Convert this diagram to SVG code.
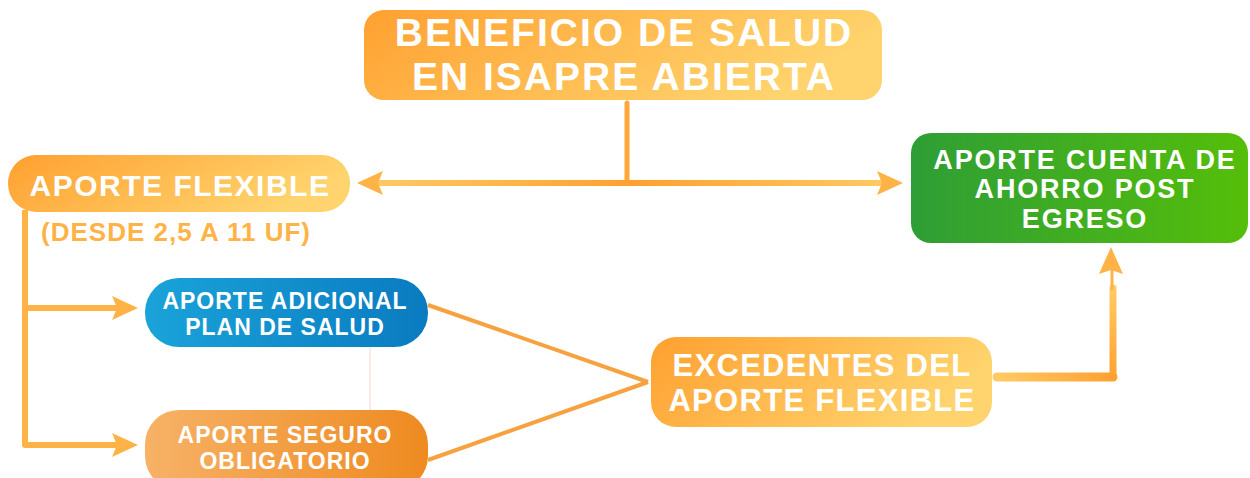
<svg xmlns="http://www.w3.org/2000/svg" width="1250" height="478" viewBox="0 0 1250 478">
<style>
.t{font-family:"Liberation Sans",Arial,sans-serif;font-weight:bold;fill:#fff;text-anchor:middle}
.c{fill:none;stroke-linecap:round}
.ah{fill:#FFB347}
</style>
<defs>
<linearGradient id="gOr" x1="0" y1="0" x2="1" y2="0.3">
<stop offset="0" stop-color="#FFA030"/><stop offset="1" stop-color="#FFD46E"/>
</linearGradient>
<linearGradient id="gGr" x1="0" y1="0" x2="1" y2="0">
<stop offset="0" stop-color="#2E9E36"/><stop offset="1" stop-color="#55BE0A"/>
</linearGradient>
<linearGradient id="gBl" x1="0" y1="0" x2="1" y2="0">
<stop offset="0" stop-color="#1AA3D9"/><stop offset="1" stop-color="#0A7BC0"/>
</linearGradient>
<linearGradient id="gOr2" x1="0" y1="0" x2="1" y2="0">
<stop offset="0" stop-color="#F7B266"/><stop offset="1" stop-color="#EE8A20"/>
</linearGradient>
<linearGradient id="gH" gradientUnits="userSpaceOnUse" x1="360" y1="0" x2="903" y2="0">
<stop offset="0" stop-color="#FFCC66"/><stop offset="0.5" stop-color="#FFA030"/><stop offset="1" stop-color="#FFCC66"/>
</linearGradient>
<linearGradient id="gE" gradientUnits="userSpaceOnUse" x1="993" y1="0" x2="1115" y2="0">
<stop offset="0" stop-color="#FFCC66"/><stop offset="1" stop-color="#FFA030"/>
</linearGradient>
<linearGradient id="gV" gradientUnits="userSpaceOnUse" x1="0" y1="285" x2="0" y2="380">
<stop offset="0" stop-color="#FFCC66"/><stop offset="1" stop-color="#FFA030"/>
</linearGradient>
<marker id="ahb" viewBox="0 0 26 24" refX="5" refY="12" markerWidth="26" markerHeight="24" markerUnits="userSpaceOnUse" orient="auto-start-reverse">
<path class="ah" d="M0,0 L26,12 L0,24 L5,12 z"/>
</marker>
</defs>

<g id="connectors">
<line class="c" x1="627" y1="103" x2="627" y2="181" stroke="#FFA838" stroke-width="5"/>
<line x1="378" y1="183" x2="882" y2="183" stroke="url(#gH)" stroke-width="6" marker-start="url(#ahb)" marker-end="url(#ahb)"/>
<polyline points="25,210 25,445 117,445" fill="none" stroke="#FFB347" stroke-width="6" stroke-linejoin="round" marker-end="url(#ahb)"/>
<line x1="25" y1="308" x2="117" y2="308" stroke="#FFB347" stroke-width="6" marker-end="url(#ahb)"/>
<line x1="370" y1="347" x2="370" y2="410" stroke="#F6D9C9" stroke-width="1"/>
<line x1="428" y1="305" x2="648" y2="382" stroke="#F7A240" stroke-width="4"/>
<line x1="428" y1="460" x2="648" y2="382" stroke="#F7A240" stroke-width="4"/>
<line class="c" x1="997" y1="377" x2="1113" y2="377" stroke="url(#gE)" stroke-width="9"/>
<line class="c" x1="1113" y1="377" x2="1113" y2="288" stroke="url(#gV)" stroke-width="7"/>
<line x1="1112" y1="290" x2="1112" y2="268" stroke="#FFB347" stroke-width="3"/>
<path class="ah" d="M1111,247 L1123,274 L1111,270 L1099,274 z"/>
</g>

<g id="beneficio">
<rect x="364" y="10" width="518" height="90" rx="20" fill="url(#gOr)"/>
<text class="t" x="624" y="46" font-size="39" letter-spacing="2">BENEFICIO DE SALUD</text>
<text class="t" x="624" y="90" font-size="39" letter-spacing="2">EN ISAPRE ABIERTA</text>
</g>

<g id="aporte-flexible">
<rect x="8" y="155" width="342" height="57" rx="28" fill="url(#gOr)"/>
<text class="t" x="180" y="196" font-size="30" letter-spacing="1.5">APORTE FLEXIBLE</text>
<text x="176" y="241" font-size="26" letter-spacing="1" font-family="Liberation Sans,Arial,sans-serif" font-weight="bold" fill="#FFB347" text-anchor="middle">(DESDE 2,5 A 11 UF)</text>
</g>

<g id="cuenta-ahorro">
<rect x="911" y="133" width="337" height="110" rx="20" fill="url(#gGr)"/>
<text class="t" x="1085" y="169" font-size="27" letter-spacing="1.8">APORTE CUENTA DE</text>
<text class="t" x="1085" y="198" font-size="27" letter-spacing="1.8">AHORRO POST</text>
<text class="t" x="1085" y="228" font-size="27" letter-spacing="1.8">EGRESO</text>
</g>

<g id="adicional">
<rect x="145" y="278" width="283" height="69" rx="34" fill="url(#gBl)"/>
<text class="t" x="285" y="309" font-size="23" letter-spacing="1">APORTE ADICIONAL</text>
<text class="t" x="285" y="335" font-size="23" letter-spacing="1">PLAN DE SALUD</text>
</g>

<g id="seguro">
<rect x="145" y="410" width="283" height="80" rx="34" fill="url(#gOr2)"/>
<text class="t" x="285" y="443" font-size="23" letter-spacing="1">APORTE SEGURO</text>
<text class="t" x="285" y="469" font-size="23" letter-spacing="1">OBLIGATORIO</text>
</g>

<g id="excedentes">
<rect x="651" y="337" width="341" height="90" rx="25" fill="url(#gOr)"/>
<text class="t" x="822" y="376" font-size="31" letter-spacing="1.3">EXCEDENTES DEL</text>
<text class="t" x="822" y="411" font-size="31" letter-spacing="1.3">APORTE FLEXIBLE</text>
</g>
</svg>
